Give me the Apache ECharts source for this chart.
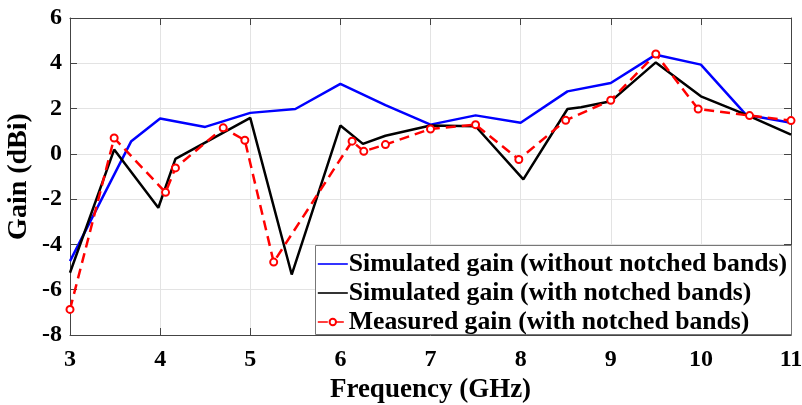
<!DOCTYPE html>
<html>
<head>
<meta charset="utf-8">
<script src="https://cdn.jsdelivr.net/npm/echarts@6/dist/echarts.min.js"></script>
<style>
  html, body { margin: 0; padding: 0; background: #fff; }
  #chart { width: 802px; height: 405px; }
</style>
</head>
<body>
<div id="chart"></div>
<script>
// Gain vs frequency of the UWB antenna
const freqSimNoNotch = [3, 3.68, 4, 4.5, 5, 5.5, 6, 6.5, 7, 7.5, 8, 8.52, 9, 9.5, 10, 10.5, 11];
const gainSimNoNotch = [-4.74, 0.56, 1.56, 1.19, 1.81, 1.98, 3.09, 2.15, 1.29, 1.7, 1.37, 2.76, 3.13, 4.38, 3.94, 1.73, 1.37];

const freqSimNotch = [3, 3.49, 3.98, 4.17, 5, 5.46, 6, 6.25, 6.5, 7, 7.5, 8.03, 8.52, 8.67, 9, 9.5, 10, 10.5, 11];
const gainSimNotch = [-5.25, 0.19, -2.38, -0.22, 1.59, -5.33, 1.25, 0.44, 0.8, 1.25, 1.22, -1.13, 1.98, 2.06, 2.32, 4.04, 2.54, 1.73, 0.85];

const freqMeasured = [3, 3.49, 4.06, 4.17, 4.7, 4.94, 5.26, 6.13, 6.26, 6.5, 7, 7.5, 7.98, 8.5, 9, 9.5, 9.97, 10.54, 11];
const gainMeasured = [-6.87, 0.7, -1.7, -0.62, 1.15, 0.6, -4.78, 0.56, 0.11, 0.41, 1.1, 1.29, -0.25, 1.48, 2.37, 4.41, 1.98, 1.69, 1.47];

const seriesNames = [
  'Simulated gain (without notched bands)',
  'Simulated gain (with notched bands)',
  'Measured gain (with notched bands)'
];

const xRange = { min: 3, max: 11, interval: 1 };
const yRange = { min: -8, max: 6, interval: 2 };

const pair = (xs, ys) => xs.map((x, i) => [x, ys[i]]);

const FONT = '"Liberation Serif", "Times New Roman", serif';
const axisLineStyle = { show: true, onZero: false, lineStyle: { color: '#444', width: 1 } };
const innerTicks = { show: true, inside: true, length: 7, lineStyle: { color: '#444' } };
// thin horizontal bar used as the legend sample for the solid lines
const lineIcon = 'path://M0,0 H30 V1.6 H0 Z';

const chart = echarts.init(document.getElementById('chart'), null, { renderer: 'canvas' });

chart.setOption({
  animation: false,
  backgroundColor: '#fff',
  grid: { left: 70, right: 11, top: 18, bottom: 70, containLabel: false, outerBoundsMode: 'none' },
  // framed white panel behind the legend entries
  graphic: [{
    type: 'rect', z: 20, silent: true,
    shape: { x: 315.5, y: 245.5, width: 476, height: 89 },
    style: { fill: '#fff', stroke: '#777', lineWidth: 1 }
  }],
  xAxis: [
    {
      type: 'value', position: 'bottom', ...xRange,
      name: 'Frequency (GHz)', nameLocation: 'middle', nameGap: 41,
      nameTextStyle: { fontFamily: FONT, fontWeight: 'bold', fontSize: 27, color: '#000' },
      axisLine: axisLineStyle, axisTick: innerTicks,
      axisLabel: { fontFamily: FONT, fontWeight: 'bold', fontSize: 24, color: '#000', margin: 13 },
      splitLine: { show: true, lineStyle: { color: '#e3e3e3', width: 1 } }
    },
    {
      type: 'value', position: 'top', ...xRange,
      axisLine: axisLineStyle, axisTick: innerTicks,
      axisLabel: { show: false }, splitLine: { show: false }
    }
  ],
  yAxis: [
    {
      type: 'value', position: 'left', ...yRange,
      name: 'Gain (dBi)', nameLocation: 'middle', nameGap: 37, nameMoveOverlap: false,
      nameTextStyle: { fontFamily: FONT, fontWeight: 'bold', fontSize: 28, color: '#000' },
      axisLine: axisLineStyle, axisTick: innerTicks,
      axisLabel: { fontFamily: FONT, fontWeight: 'bold', fontSize: 24, color: '#000', margin: 8 },
      splitLine: { show: true, lineStyle: { color: '#e3e3e3', width: 1 } }
    },
    {
      type: 'value', position: 'right', ...yRange,
      axisLine: axisLineStyle, axisTick: innerTicks,
      axisLabel: { show: false }, splitLine: { show: false }
    }
  ],
  legend: {
    orient: 'vertical', z: 21,
    left: 315, top: 245,
    padding: [6, 2, 1, 2],
    itemGap: 3,
    itemWidth: 30, itemHeight: 8,
    borderWidth: 0,
    lineStyle: { width: 1.6 },
    textStyle: { fontFamily: FONT, fontWeight: 'bold', fontSize: 25.7, color: '#000', padding: [0, 0, 0, -4], lineHeight: 26 },
    data: [
      { name: seriesNames[0], icon: lineIcon },
      { name: seriesNames[1], icon: lineIcon },
      { name: seriesNames[2] }
    ]
  },
  series: [
    {
      name: seriesNames[0], type: 'line', xAxisIndex: 0, yAxisIndex: 0,
      data: pair(freqSimNoNotch, gainSimNoNotch),
      symbol: 'none', color: '#0000ff',
      lineStyle: { color: '#0000ff', width: 2.5 }, z: 3
    },
    {
      name: seriesNames[1], type: 'line', xAxisIndex: 0, yAxisIndex: 0,
      data: pair(freqSimNotch, gainSimNotch),
      symbol: 'none', color: '#000',
      lineStyle: { color: '#000', width: 2.5 }, z: 4
    },
    {
      name: seriesNames[2], type: 'line', xAxisIndex: 0, yAxisIndex: 0,
      data: pair(freqMeasured, gainMeasured),
      symbol: 'emptyCircle', symbolSize: 7, showSymbol: true, color: '#ff0000',
      itemStyle: { color: '#ff0000', borderColor: '#ff0000', borderWidth: 2 },
      lineStyle: { color: '#ff0000', width: 2.5, type: [10, 6] }, z: 5
    }
  ]
});
</script>
</body>
</html>
